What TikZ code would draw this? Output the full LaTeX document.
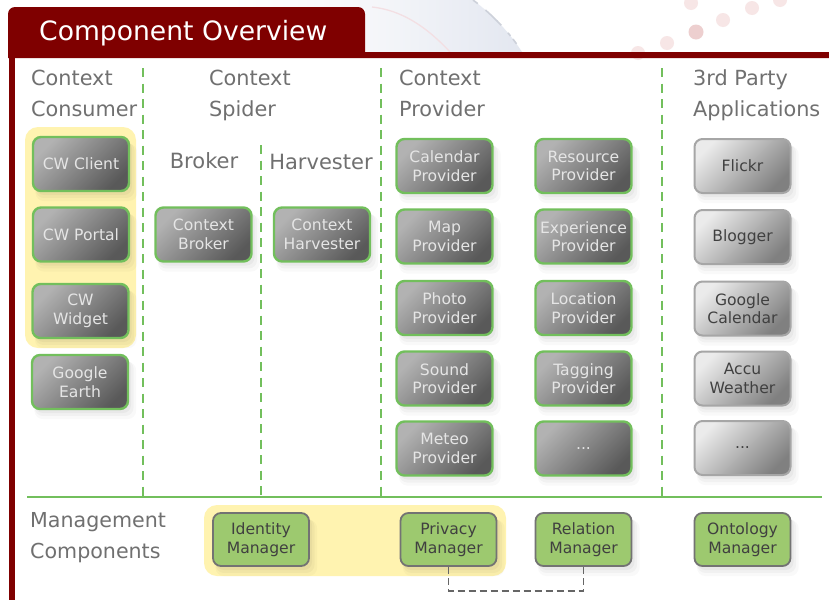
\documentclass[tikz,border=0pt]{standalone}
\usepackage{fontspec}
\setmainfont{DejaVu Sans}
\usetikzlibrary{shadows}
\definecolor{darkred}{HTML}{7F0000}
\definecolor{grn}{HTML}{72BF5C}
\definecolor{hl}{HTML}{FFF3B0}
\definecolor{head}{HTML}{707070}
\definecolor{mgfill}{HTML}{9DC96F}
\definecolor{swoosh}{HTML}{E3E7F0}
\definecolor{swooshl}{HTML}{F6F7FA}
\definecolor{swline}{HTML}{CDD1DA}
\definecolor{swpink}{HTML}{F3DFE3}
\definecolor{dotc}{HTML}{EDCFCF}
\definecolor{dotl}{HTML}{F7E6E6}
\tikzset{
  softshadow/.style={
    general shadow={fill=black,opacity=.025,shadow xshift=5pt,shadow yshift=-8pt,shadow scale=1.06},
    general shadow={fill=black,opacity=.03,shadow xshift=4pt,shadow yshift=-6pt,shadow scale=1.03},
    general shadow={fill=black,opacity=.035,shadow xshift=3pt,shadow yshift=-4pt}},
  basebox/.style={rounded corners=8pt,minimum width=96pt,minimum height=54pt,inner sep=0pt,
    align=center,font=\fontsize{15.6}{18.5}\selectfont,softshadow},
  ctxbox/.style={basebox,draw=grn,line width=2.4pt,text=white!90!black,
    top color=white!70!black,bottom color=white!35!black,shading angle=45},
  appbox/.style={basebox,draw=white!65!black,line width=2pt,text=white!25!black,
    top color=white!92!black,bottom color=white!50!black,shading angle=45},
  mgbox/.style={rounded corners=8pt,minimum width=96pt,minimum height=53pt,inner sep=0pt,align=center,
    font=\fontsize{15.6}{18.5}\selectfont,fill=mgfill,draw=white!45!black,line width=1.8pt,text=white!25!black,softshadow},
  heading/.style={anchor=north west,inner sep=0pt,align=left,text=head,
    font=\fontsize{20.8}{31}\selectfont},
  subhead/.style={inner sep=0pt,text=head,font=\fontsize{21}{25}\selectfont},
  divider/.style={draw=grn,line width=1.8pt,dash pattern=on 9pt off 6.5pt},
  hlarea/.style={fill=hl,rounded corners=13pt},
  tabtext/.style={inner sep=0pt,text=white,font=\fontsize{26.6}{30}\selectfont},
  blob/.style={fill=dotc},
  blobl/.style={fill=dotl},
}
\begin{document}
\begin{tikzpicture}[x=1pt,y=-1pt]
\useasboundingbox (0,0) rectangle (829,600);
\fill[white] (0,0) rectangle (829,600);
% background decor
\shade[left color=white,right color=swooshl] (230,0) rectangle (366,8);
\shade[left color=swooshl,right color=swoosh] (365,0) -- (473,0) .. controls (493,15) and (510,33) .. (522,52) -- (365,52) -- cycle;
\draw[swpink,line width=1.3pt] (372,7) .. controls (400,10) and (425,25) .. (450,52);
\draw[swline,line width=1.6pt,dash pattern=on 6pt off 10pt on 22pt off 10pt on 4pt off 4pt] (473,0) .. controls (493,15) and (510,33) .. (522,52);
\fill[blob] (696,32) circle (7.5);
\fill[blobl] (723,20) circle (7);
\fill[blobl] (752,8) circle (7);
\fill[blobl] (667,43) circle (7);
\fill[blobl] (638,53) circle (7);
\fill[blobl] (691,3) circle (7);
\fill[blobl] (780,0) circle (7);
% red frame
\fill[darkred] (8,58) -- (8,15) [rounded corners=7pt] -- (8,7) -- (365,7) [sharp corners] -- (365,52) -- (829,52) -- (829,58) -- cycle;
\fill[darkred] (9,52) rectangle (15,600);
\node[tabtext,anchor=west] (title) at (39,33) {Component Overview};
% highlights
\fill[hlarea] (25,127) rectangle (136,348);
\fill[hlarea] (204,505) rectangle (506,576);
% dividers
\coordinate (hl) at (27,497); \coordinate (hr) at (822,497);
\coordinate (d1t) at (143,68); \coordinate (d1b) at (143,497);
\coordinate (d2t) at (261,145); \coordinate (d2b) at (261,497);
\coordinate (d3t) at (381,68); \coordinate (d3b) at (381,497);
\coordinate (d4t) at (662,68); \coordinate (d4b) at (662,497);
\draw[divider] (d1t) -- (d1b);
\draw[divider] (d2t) -- (d2b);
\draw[divider] (d3t) -- (d3b);
\draw[divider] (d4t) -- (d4b);
\draw[grn,line width=1.8pt] (hl) -- (hr);
% headings
\node[heading] (h1) at (31,69.5) {Context\\Consumer};
\node[heading] (h2) at (209,69.5) {Context\\Spider};
\node[heading] (h3) at (399,69.5) {Context\\Provider};
\node[heading] (h4) at (693,69.5) {3rd Party\\Applications};
\node[subhead] (s1) at (204,161) {Broker};
\node[subhead] (s2) at (321,162) {Harvester};
\node[heading,font=\fontsize{20.6}{31}\selectfont] (h5) at (30,512) {Management\\Components};
% consumer
\node[ctxbox] (cwclient) at (81,164) {CW Client};
\node[ctxbox] (cwportal) at (81,234.5) {CW Portal};
\node[ctxbox] (cwwidget) at (80.5,311) {CW\\Widget};
\node[ctxbox] (gearth) at (80,382) {Google\\Earth};
% spider
\node[ctxbox] (broker) at (203.5,234.5) {Context\\Broker};
\node[ctxbox] (harvest) at (322,234.5) {Context\\Harvester};
% providers
\node[ctxbox] (p1) at (444.5,166) {Calendar\\Provider};
\node[ctxbox] (p2) at (444.5,236.5) {Map\\Provider};
\node[ctxbox] (p3) at (444.5,308) {Photo\\Provider};
\node[ctxbox] (p4) at (444.5,378.5) {Sound\\Provider};
\node[ctxbox] (p5) at (444.5,448.5) {Meteo\\Provider};
\node[ctxbox] (q1) at (583.5,166) {Resource\\Provider};
\node[ctxbox] (q2) at (583.5,236.5) {Experience\\Provider};
\node[ctxbox] (q3) at (583.5,308) {Location\\Provider};
\node[ctxbox] (q4) at (583.5,378.5) {Tagging\\Provider};
\node[ctxbox] (q5) at (583.5,448.5) {...};
% apps
\node[appbox] (a1) at (742.5,166) {Flickr};
\node[appbox] (a2) at (742.5,237) {Blogger};
\node[appbox] (a3) at (742.5,308.5) {Google\\Calendar};
\node[appbox] (a4) at (742.5,378.5) {Accu\\Weather};
\node[appbox] (a5) at (742.5,448) {...};
% management
\node[mgbox] (identity) at (261,539.5) {Identity\\Manager};
\node[mgbox] (privacy) at (448.5,539.5) {Privacy\\Manager};
\node[mgbox] (relation) at (583.5,539.5) {Relation\\Manager};
\node[mgbox] (ontology) at (742.5,539.5) {Ontology\\Manager};
\draw[white!40!black,line width=1.7pt,dash pattern=on 7pt off 4pt] (privacy.south) -- ++(0,24) -| (relation.south);
\end{tikzpicture}
\end{document}
